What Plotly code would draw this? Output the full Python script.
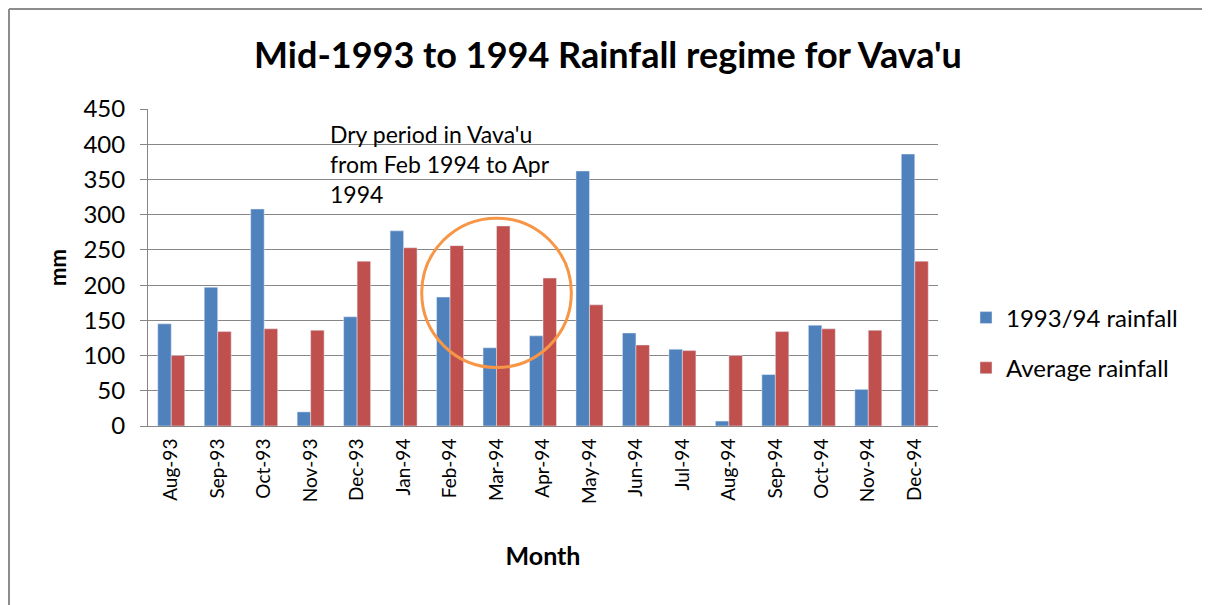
import plotly.graph_objects as go

months = ["Aug-93", "Sep-93", "Oct-93", "Nov-93", "Dec-93", "Jan-94", "Feb-94", "Mar-94",
          "Apr-94", "May-94", "Jun-94", "Jul-94", "Aug-94", "Sep-94", "Oct-94", "Nov-94", "Dec-94"]
rain_9394 = [145, 197, 308, 20, 155, 277, 183, 111, 128, 362, 132, 109, 7, 73, 143, 52, 386]
rain_avg = [100, 134, 138, 136, 234, 253, 256, 284, 210, 172, 115, 107, 100, 134, 138, 136, 234]
y_ticks = [0, 50, 100, 150, 200, 250, 300, 350, 400, 450]

FONT = "Lato, 'Open Sans', sans-serif"

OFF = 8  # page body margin
W, H = 1210, 605
# plot area in page pixels: x 148..938, y 109..426
PL, PR, PT, PB = 148, 938, 109, 426
L = PL - OFF
T = PT - OFF
pw, ph = PR - PL, PB - PT
R = W - L - pw
B = H - T - ph

def px(x):  # page x -> paper
    return (x - PL) / pw

def py(y):  # page y -> paper
    return (PB - y) / ph

fig = go.Figure()
fig.add_trace(go.Bar(x=months, y=rain_9394, name="1993/94 rainfall", marker_color="#4F81BD",
                     legendgroup="a"))
fig.add_trace(go.Bar(x=months, y=rain_avg, name="Average rainfall", marker_color="#C0504D",
                     legendgroup="b"))

fig.update_layout(
    width=W, height=H,
    margin=dict(l=L, r=R, t=T, b=B, autoexpand=False),
    paper_bgcolor="white", plot_bgcolor="white",
    barmode="group", bargap=0.42, bargroupgap=0,
    font=dict(family=FONT, color="black"),
    title=dict(text="<b>Mid-1993 to 1994 Rainfall regime for Vava'u</b>",
               x=(608 - OFF) / W, xanchor="center", y=1 - (55 - OFF) / H, yanchor="middle",
               font=dict(size=36, family=FONT)),
    legend=dict(x=px(966), xanchor="left", y=py(343), yanchor="middle",
                font=dict(size=24, family=FONT), tracegroupgap=16,
                traceorder="grouped",
                itemwidth=30, bgcolor="rgba(0,0,0,0)"),
    xaxis=dict(type="category", tickangle=-90, tickfont=dict(size=19, family=FONT),
               showline=True, linecolor="#868686", linewidth=1, ticks="",
               ticklabelstandoff=4,
               title=dict(text="<b>Month</b>", font=dict(size=25, family=FONT), standoff=44)),
    yaxis=dict(range=[0, 450], tickvals=y_ticks, tickfont=dict(size=24, family=FONT),
               showgrid=True, gridcolor="#868686", gridwidth=1,
               showline=True, linecolor="#868686", linewidth=1,
               ticks="outside", ticklen=7, tickcolor="#868686",
               ticklabelstandoff=10,
               title=dict(text="<b>mm</b>", font=dict(size=22, family=FONT), standoff=10)),
    showlegend=True,
)

fig.add_shape(type="circle", xref="x", yref="y",
              x0=7 - 1.61, x1=7 + 1.61, y0=83, y1=295,
              line=dict(color="#F79646", width=3))

fig.add_annotation(text="Dry period in Vava'u<br>from Feb 1994 to Apr<br>1994",
                   xref="paper", yref="paper", x=px(328), y=py(118),
                   xanchor="left", yanchor="top", align="left", showarrow=False,
                   font=dict(size=23, family=FONT))

# chart border (left and top edges)
fig.add_shape(type="line", xref="paper", yref="paper",
              x0=px(9), x1=px(9), y0=py(9), y1=py(620), line=dict(color="#8c8c8c", width=2))
fig.add_shape(type="line", xref="paper", yref="paper",
              x0=px(9), x1=px(1230), y0=py(9), y1=py(9), line=dict(color="#8c8c8c", width=2))

fig.write_html("out.html")
